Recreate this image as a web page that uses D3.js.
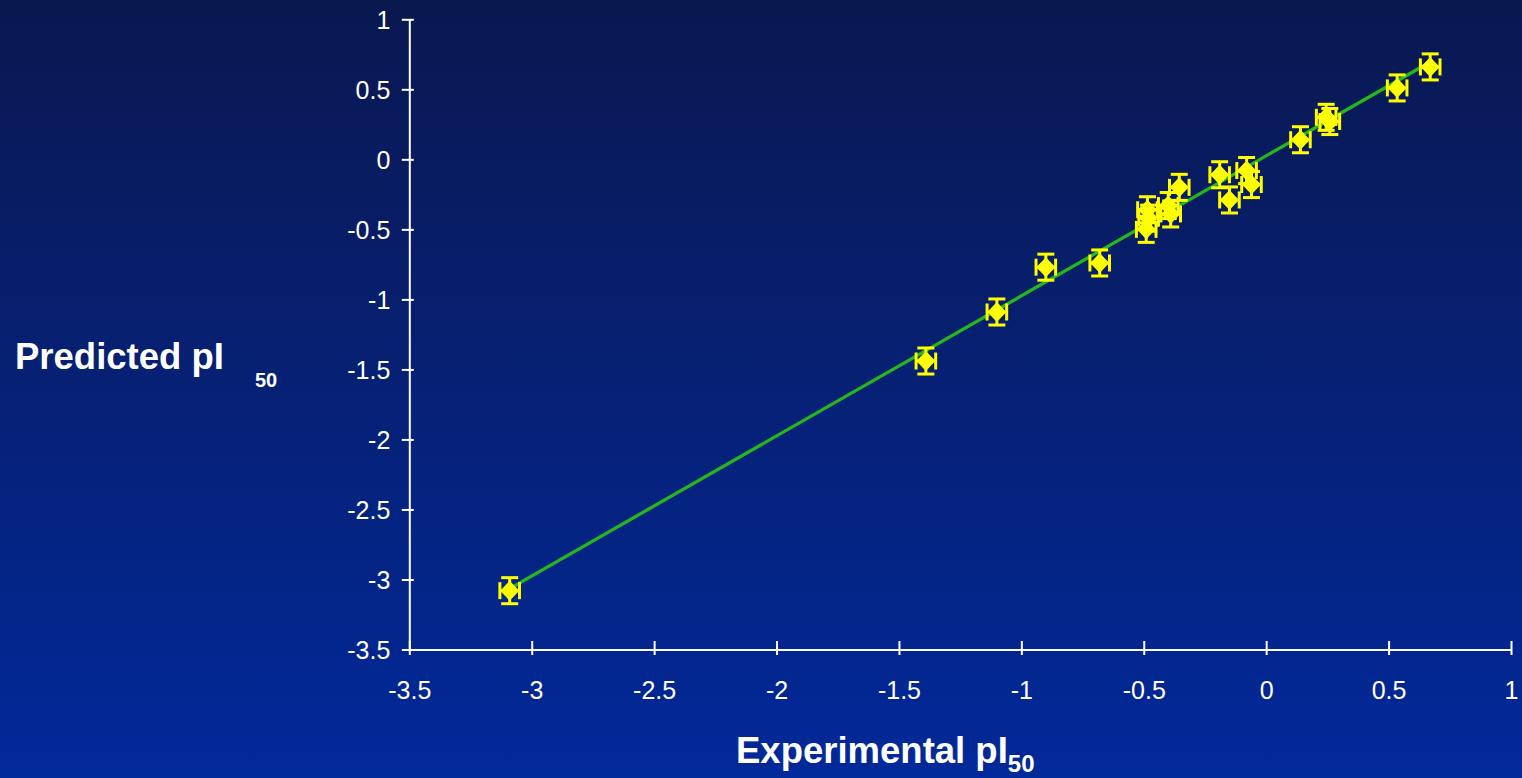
<!DOCTYPE html>
<html>
<head>
<meta charset="utf-8">
<script src="https://cdn.jsdelivr.net/npm/d3@7"></script>
<style>
  html, body { margin: 0; padding: 0; }
  body { width: 1522px; height: 778px; overflow: hidden; }
  svg { display: block; font-family: "Liberation Sans", Arial, sans-serif; }
</style>
</head>
<body>
<svg id="chart" width="1522" height="778"></svg>
<script>
// Experimental vs predicted pI50 values
const experimental = [-3.09, -1.39, -1.10, -0.90, -0.68, -0.485, -0.48, -0.49, -0.40, -0.39,
                      -0.355, -0.19, -0.15, -0.08, -0.06, 0.14, 0.245, 0.26, 0.535, 0.67];
const predicted    = [-3.08, -1.44, -1.09, -0.77, -0.74, -0.36, -0.42, -0.50, -0.33, -0.39,
                      -0.20, -0.11, -0.29, -0.08, -0.18, 0.14, 0.30, 0.27, 0.51, 0.66];
// error bar half-widths
const xError = 0.04;
const yError = 0.093;
// regression line (predicted = slope * experimental + intercept)
const fitSlope = 1.0;
const fitIntercept = 0.025;
const fitRange = [-3.09, 0.67];

const xTicks = [-3.5, -3, -2.5, -2, -1.5, -1, -0.5, 0, 0.5, 1];
const yTicks = [1, 0.5, 0, -0.5, -1, -1.5, -2, -2.5, -3, -3.5];

const svg = d3.select("#chart");
const W = 1522, H = 778;

// background gradient
const defs = svg.append("defs");
const grad = defs.append("linearGradient").attr("id", "bg")
  .attr("x1", 0).attr("y1", 0).attr("x2", 0).attr("y2", 1);
grad.append("stop").attr("offset", "0%").attr("stop-color", "#0a1850");
grad.append("stop").attr("offset", "100%").attr("stop-color", "#02299a");
svg.append("rect").attr("width", W).attr("height", H).attr("fill", "url(#bg)");

const x = d3.scaleLinear().domain([-3.5, 1]).range([409.3, 1511]);
const y = d3.scaleLinear().domain([-3.5, 1]).range([649.5, 19.3]);

const fmt = d => String(d);

// y axis
const gy = svg.append("g").attr("transform", `translate(${x(-3.5)},0)`)
  .call(d3.axisLeft(y).tickValues(yTicks).tickFormat(fmt).tickSizeOuter(0));
gy.select(".domain").attr("stroke", "#fff").attr("stroke-width", 2);
gy.selectAll(".tick line").attr("stroke", "#fff").attr("stroke-width", 2)
  .attr("x1", -7.5).attr("x2", 4.5);
gy.selectAll(".tick text").attr("fill", "#fff").attr("font-size", 25)
  .attr("x", -19).attr("dy", "0.36em")
  .attr("font-family", "'Liberation Sans', Arial, sans-serif");

// x axis
const gx = svg.append("g").attr("transform", `translate(0,${y(-3.5)})`)
  .call(d3.axisBottom(x).tickValues(xTicks).tickFormat(fmt).tickSizeOuter(0));
gx.select(".domain").attr("stroke", "#fff").attr("stroke-width", 2);
gx.selectAll(".tick line").attr("stroke", "#fff").attr("stroke-width", 2)
  .attr("y1", -8.5).attr("y2", 5.5);
gx.selectAll(".tick text").attr("fill", "#fff").attr("font-size", 25)
  .attr("y", 49.5).attr("dy", 0)
  .attr("font-family", "'Liberation Sans', Arial, sans-serif");

// regression line
svg.append("line")
  .attr("x1", x(fitRange[0])).attr("y1", y(fitSlope * fitRange[0] + fitIntercept))
  .attr("x2", x(fitRange[1])).attr("y2", y(fitSlope * fitRange[1] + fitIntercept))
  .attr("stroke", "#24b81c").attr("stroke-width", 3.2);

const pts = experimental.map((e, i) => ({ ex: e, pr: predicted[i] }));
const yellow = "#ffff00";
const capHalf = 8.5;

const eb = svg.append("g").attr("stroke", yellow).attr("stroke-width", 3).attr("fill", "none");
pts.forEach(p => {
  const cx = x(p.ex), cy = y(p.pr);
  const yt = y(p.pr + yError), yb = y(p.pr - yError);
  const xl = x(p.ex - xError), xr = x(p.ex + xError);
  // vertical bar with caps
  eb.append("line").attr("x1", cx).attr("x2", cx).attr("y1", yt).attr("y2", yb);
  eb.append("line").attr("x1", cx - capHalf).attr("x2", cx + capHalf).attr("y1", yt).attr("y2", yt);
  eb.append("line").attr("x1", cx - capHalf).attr("x2", cx + capHalf).attr("y1", yb).attr("y2", yb);
  // horizontal bar with caps
  eb.append("line").attr("x1", xl).attr("x2", xr).attr("y1", cy).attr("y2", cy);
  eb.append("line").attr("x1", xl).attr("x2", xl).attr("y1", cy - capHalf).attr("y2", cy + capHalf);
  eb.append("line").attr("x1", xr).attr("x2", xr).attr("y1", cy - capHalf).attr("y2", cy + capHalf);
});

// diamond markers
const dw = 9.5, dh = 10;
svg.append("g").selectAll("path").data(pts).join("path")
  .attr("d", p => {
    const cx = x(p.ex), cy = y(p.pr);
    return `M${cx},${cy - dh}L${cx + dw},${cy}L${cx},${cy + dh}L${cx - dw},${cy}Z`;
  })
  .attr("fill", yellow);

// axis titles
const yTitle = svg.append("g").attr("fill", "#fff").attr("font-weight", "bold");
yTitle.append("text").attr("x", 15).attr("y", 369).attr("font-size", 36.5).text("Predicted pI");
yTitle.append("text").attr("x", 255).attr("y", 387).attr("font-size", 20).text("50");

const xTitle = svg.append("text").attr("fill", "#fff").attr("font-weight", "bold")
  .attr("x", 736).attr("y", 763).attr("font-size", 36.5);
xTitle.append("tspan").text("Experimental pI");
xTitle.append("tspan").attr("font-size", 24).attr("dy", 9).text("50");
</script>
</body>
</html>
